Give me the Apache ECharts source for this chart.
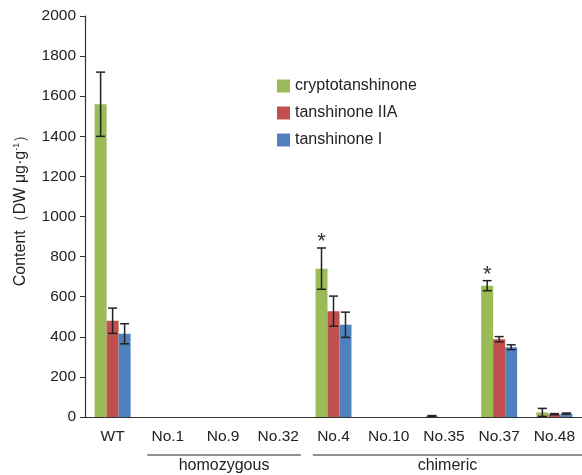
<!DOCTYPE html>
<html><head><meta charset="utf-8">
<script src="https://cdn.jsdelivr.net/npm/echarts@6/dist/echarts.min.js"></script>
<style>html,body{margin:0;padding:0;background:#fff}#c{width:582px;height:475px}</style>
</head><body><div id="c"></div>
<script>
const categories = ['WT','No.1','No.9','No.32','No.4','No.10','No.35','No.37','No.48'];
const seriesNames = ['cryptotanshinone','tanshinone IIA','tanshinone I'];
const crypto    = [1560,0,0,0,740,0,5,655,23];
const cryptoErr = [160,0,0,0,103,0,2,25,20];
const tan2a     = [480,0,0,0,528,0,0,388,14];
const tan2aErr  = [63,0,0,0,75,0,0,13,3];
const tan1      = [415,0,0,0,460,0,0,348,17];
const tan1Err   = [50,0,0,0,63,0,0,12,3];
const sigMarks  = ['','','','','*','','','*',''];
const groups = [
  {name:'homozygous', from:1, to:3},
  {name:'chimeric', from:4, to:8}
];
const yTicks = {min:0, max:2000, interval:200};

const colors = ['#9BBB59','#C0504D','#4F81BD'];
const values = [crypto, tan2a, tan1];
const errs = [cryptoErr, tan2aErr, tan1Err];
const BW = 12;
const FONT = 'Liberation Sans, Arial, sans-serif';

const chart = echarts.init(document.getElementById('c'));

const barSeries = values.map((v,i)=>({
  name: seriesNames[i], type:'bar', data:v, barWidth:BW, barGap:'0%',
  itemStyle:{color:colors[i]}, z:2
}));
const errSeries = values.map((v,i)=>({
  name: seriesNames[i]+'_err', type:'custom',
  data: v.map((val,k)=>[k,val,errs[i][k],sigMarks[k] && i===0 ? 1 : 0]),
  z:5, silent:true,
  renderItem:function(params, api){
    const k=api.value(0), val=api.value(1), e=api.value(2), s=api.value(3);
    const off=(i-1)*BW;
    const top=api.coord([k,val+e]);
    const bot=api.coord([k,Math.max(val-e,0)]);
    const x=top[0]+off, cap=4.5;
    const children=[];
    if(e>0){
      const st={stroke:'#222',lineWidth:1.5};
      children.push({type:'line',shape:{x1:x,y1:top[1],x2:x,y2:bot[1]},style:st});
      children.push({type:'line',shape:{x1:x-cap,y1:top[1],x2:x+cap,y2:top[1]},style:st});
      children.push({type:'line',shape:{x1:x-cap,y1:bot[1],x2:x+cap,y2:bot[1]},style:st});
    }
    if(s){
      children.push({type:'text',style:{text:'*',x:x,y:top[1]+5,align:'center',verticalAlign:'bottom',
        font:'22px '+FONT,fill:'#333'}});
    }
    return {type:'group',children:children};
  }
}));

chart.setOption({
  animation:false,
  grid:{left:85,top:16,bottom:58,right:-5},
  legend:{data:seriesNames,orient:'vertical',left:272,top:73,itemWidth:13,itemHeight:13,itemGap:11,
    icon:'rect',textStyle:{fontSize:16,fontFamily:FONT,color:'#222',lineHeight:16}},
  xAxis:{type:'category',data:categories,
    axisLine:{lineStyle:{color:'#333',width:1.2}},
    axisTick:{lineStyle:{color:'#333'},length:6},
    axisLabel:{fontSize:15.5,fontFamily:FONT,color:'#222',margin:12,interval:0}},
  yAxis:{type:'value',min:yTicks.min,max:yTicks.max,interval:yTicks.interval,
    name:'{a|Content（DW μg·g}{s|-1}{a|）}',nameLocation:'middle',nameGap:55,
    nameTextStyle:{padding:[0,0,0,20],rich:{a:{fontSize:16,fontFamily:FONT,color:'#222'},s:{fontSize:9,fontFamily:FONT,color:'#222',verticalAlign:'top',padding:[0,0,9,0]}}},
    axisLine:{show:true,lineStyle:{color:'#333',width:1.2}},
    axisTick:{show:true,length:5,lineStyle:{color:'#333'}},
    splitLine:{show:false},
    axisLabel:{fontSize:15.5,fontFamily:FONT,color:'#222',margin:9,formatter:v=>String(v)}},
  series: barSeries.concat(errSeries)
});

// group annotations below categories
const graphics=[];
const w = chart.convertToPixel({xAxisIndex:0},1)-chart.convertToPixel({xAxisIndex:0},0);
groups.forEach(g=>{
  let x1=chart.convertToPixel({xAxisIndex:0},g.from)-w/2+7;
  let x2=chart.convertToPixel({xAxisIndex:0},g.to)+w/2-5;
  if(x2>582-8) x2=582;
  graphics.push({type:'line',shape:{x1:x1,y1:455,x2:x2,y2:455},style:{stroke:'#222',lineWidth:1.2}});
  graphics.push({type:'text',style:{text:g.name,x:(x1+x2)/2,y:466,align:'center',verticalAlign:'middle',
    font:'16px '+FONT,fill:'#222'}});
});
chart.setOption({graphic:graphics});
</script></body></html>
